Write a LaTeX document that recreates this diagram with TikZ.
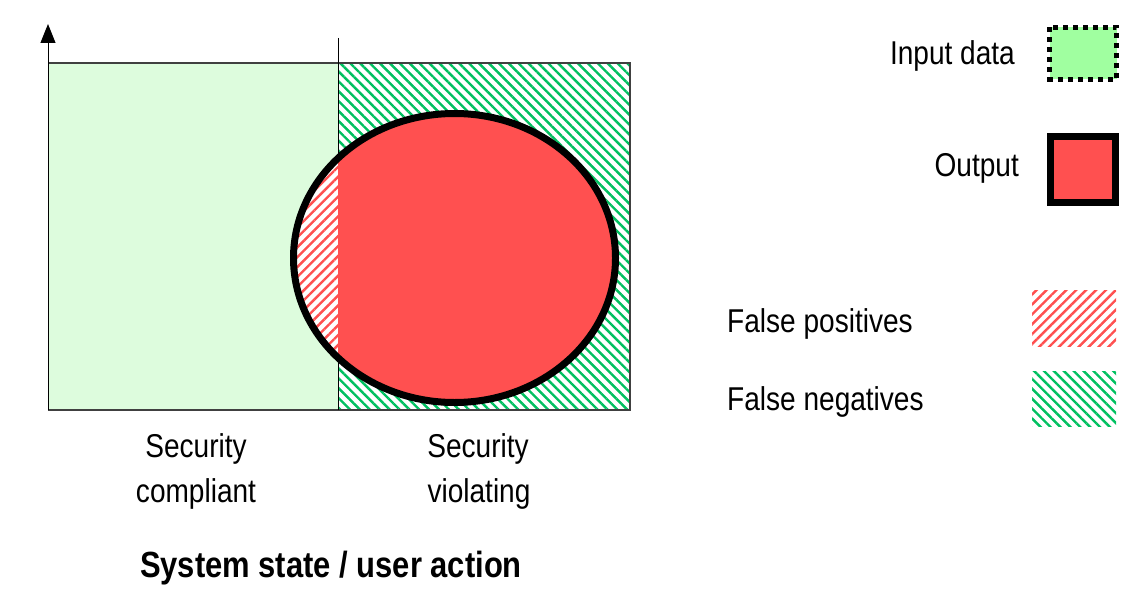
\documentclass[tikz,border=0pt]{standalone}
\usepackage{fontspec}
\setmainfont{Liberation Sans}[FakeStretch=0.85]
\usetikzlibrary{arrows.meta,patterns.meta}
\definecolor{lightgreen}{RGB}{221,252,221}
\definecolor{legendgreen}{RGB}{160,255,160}
\definecolor{outred}{RGB}{255,80,80}
\definecolor{hatchgreen}{RGB}{0,192,96}
\definecolor{framegray}{RGB}{64,64,64}
\tikzset{
  txt/.style={inner sep=0pt,font=\fontsize{33}{40}\selectfont},
  boldtxt/.style={inner sep=0pt,font=\fontsize{36.4}{40}\selectfont\bfseries},
  greenhatch/.style={pattern={Lines[angle=-45,distance=7pt,line width=2.4pt]},pattern color=hatchgreen},
  redhatch/.style={pattern={Lines[angle=45,distance=7pt,line width=2.4pt]},pattern color=outred},
  frameline/.style={draw=framegray,line width=1.3pt},
}
\begin{document}
\begin{tikzpicture}[x=1pt,y=-1pt]
\useasboundingbox (0,0) rectangle (1134,604);
% compliant region
\fill[lightgreen] (48,63) rectangle (338,410);
% violating region: false negatives hatching
\fill[white] (338,63) rectangle (630,410);
\fill[greenhatch] (338,63) rectangle (630,410);
% frame
\coordinate (axb) at (48,410);
\coordinate (axt) at (48,24);
\coordinate (dvt) at (338,38);
\coordinate (dvb) at (338,410);
\draw[frameline] (48,63) -- (630,63) -- (630,410) -- (48,410);
\draw[black,line width=1pt,-{Triangle[width=15pt,length=19pt]}] (axb) -- (axt);
\draw[black,line width=1pt] (dvt) -- (dvb);
% output ellipse
\coordinate (ec) at (454.5,258);
\fill[white] (ec) ellipse [x radius=161, y radius=144.5];
\begin{scope}
  \clip (ec) ellipse [x radius=161, y radius=144.5];
  \fill[redhatch] (280,100) rectangle (338,420);
  \fill[outred] (338,100) rectangle (640,420);
\end{scope}
\draw[black,line width=7pt] (ec) ellipse [x radius=161, y radius=144.5];
% axis labels
\node[txt,anchor=base] (sc1) at (196,457) {Security};
\node[txt,anchor=base] (sc2) at (196,502) {compliant};
\node[txt,anchor=base] (sv1) at (478,457) {Security};
\node[txt,anchor=base] (sv2) at (479,502) {violating};
\node[boldtxt,anchor=base] (xl) at (331,577) {System state / user action};
% legend
\node[txt,anchor=base east] (lin) at (1015,65) {Input data};
\draw[fill=legendgreen,line width=5pt,dash pattern=on 5pt off 5pt] (1049.5,27.5) rectangle (1116.5,79.5);
\node[txt,anchor=base east] (lout) at (1019,176) {Output};
\draw[fill=outred,line width=7pt] (1050.5,136.5) rectangle (1115.5,202.5);
\node[txt,anchor=base west] (lfp) at (727,332) {False positives};
\fill[redhatch] (1032,290) rectangle (1116,346);
\node[txt,anchor=base west] (lfn) at (727,410) {False negatives};
\fill[greenhatch] (1032,371) rectangle (1116,426);
\end{tikzpicture}
\end{document}
